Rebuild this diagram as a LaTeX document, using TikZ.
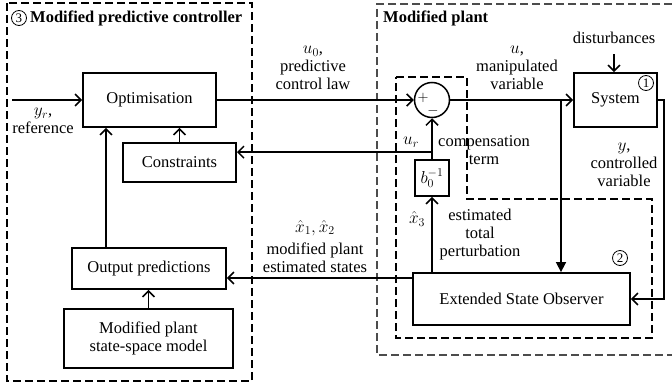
\documentclass[tikz,border=0pt]{standalone}
\usepackage{amsmath}
\usepackage{fontspec}
\setmainfont{Liberation Serif}
\usetikzlibrary{arrows.meta,positioning}

\begin{document}
\begin{tikzpicture}[x=1pt,y=-1pt,
  font=\fontsize{16.5}{18}\selectfont,
  lbl/.style={align=center,inner sep=0pt},
  box/.style={draw,line width=1.8pt,inner sep=0pt,align=center},
  num/.style={draw,circle,line width=0.8pt,minimum size=15pt,inner sep=0pt,font=\fontsize{13}{13}\selectfont},
  wire/.style={line width=1.6pt},
  arr/.style={wire,-{Straight Barb[length=6pt,width=12pt,line width=1.5pt]}},
  tri/.style={wire,-{Triangle[length=10pt,width=10pt]}},
  frame/.style={line width=1.3pt,dash pattern=on 8pt off 4pt}]
\useasboundingbox (0,0) rectangle (672,388);

% --- frames -----------------------------------------------------------
\draw[frame] (7,3) rectangle (252,381);
\draw[frame,black!70] (672,4) -- (377,4) -- (377,355) -- (672,355);
\draw[frame] (396,77) -- (467,77) -- (467,199) -- (652,199) -- (652,338)
  -- (396,338) -- cycle;
\node[num] (n3) at (19,18) {3};
\node[lbl,anchor=west] (ttlc) at (30,18) {\textbf{Modified predictive controller}};
\node[lbl,anchor=west] (ttlp) at (383,18) {\textbf{Modified plant}};

% --- controller blocks ------------------------------------------------
\node[box,minimum width=133pt,minimum height=54pt] (opt) at (149.5,100) {Optimisation};
\node[box,minimum width=113pt,minimum height=39pt] (cons) at (179.5,162.5) {Constraints};
\node[box,minimum width=154pt,minimum height=41pt] (outp) at (149,268.5) {Output predictions};
\node[box,minimum width=169pt,minimum height=59pt] (model) at (148.5,338.5) {Modified plant\\state-space model};

% --- plant blocks -----------------------------------------------------
\node[draw,circle,line width=1.5pt,minimum size=35pt,inner sep=0pt] (sum) at (432,100) {};
\node[lbl,font=\fontsize{15}{15}\selectfont] (plus) at (423,98) {$+$};
\node[lbl,font=\fontsize{15}{15}\selectfont] (minus) at (433,111) {$-$};
\node[box,minimum width=34pt,minimum height=36pt] (binv) at (432,178) {$b_0^{-1}$};
\node[box,minimum width=83pt,minimum height=54pt] (sys) at (615.5,100) {System};
\node[num] (n1) at (646,83) {1};
\node[box,minimum width=217pt,minimum height=52pt] (eso) at (521.5,299) {Extended State Observer};
\node[num] (n2) at (620,258) {2};

% --- signals ----------------------------------------------------------
\coordinate (yin) at (12,100);
\draw[arr] (yin) -- (opt.west);
\draw[arr] (opt.east) -- (sum.west);
\draw[arr] (sum.east) -- (sys.west);
\draw[arr] (cons.north) -- (cons.north |- opt.south);
\draw[arr] ([xshift=-43pt]outp.north) -- ([xshift=-43pt]outp.north |- opt.south);
\draw[arr] (model.north) -- (model.north |- outp.south);
\draw[arr] ([yshift=21pt]eso.west) -- ([yshift=21pt]eso.west -| outp.east);
\draw[arr] (binv.south |- eso.north) -- (binv.south);
\draw[arr] (binv.north) -- (sum.south);
\coordinate (ur) at ([yshift=7pt]binv.north);
\draw[arr] (ur) -- (ur -| cons.east);
\coordinate (utap) at (561,100);
\draw[tri] (utap) -- (utap |- eso.north);
\draw[arr] (sys.east) -- ++(6,0) |- (eso.east);

% --- labels -----------------------------------------------------------
\node[lbl] (dist) at (614,38) {disturbances};
\draw[arr] ([yshift=-10pt]dist.south) -- (dist.south |- sys.north);
\node[lbl] (lyr) at (43,121) {$y_r$,\\reference};
\node[lbl] (lu0) at (313,68) {$u_0$,\\predictive\\control law};
\node[lbl] (lu) at (517,68) {$u$,\\manipulated\\variable};
\node[lbl] (ly) at (624,165) {$y$,\\controlled\\variable};
\node[lbl] (lxh) at (315,228) {$\hat{x}_1,\hat{x}_2$};
\node[lbl] (lxt) at (315,258) {modified plant\\estimated states};
\node[lbl] (lur) at (411,142) {$u_r$};
\node[lbl] (lcomp) at (484,150) {compensation\\term};
\node[lbl] (lx3) at (417,219) {$\hat{x}_3$};
\node[lbl] (lpert) at (480,235) {estimated\\total\\perturbation};
\end{tikzpicture}
\end{document}
